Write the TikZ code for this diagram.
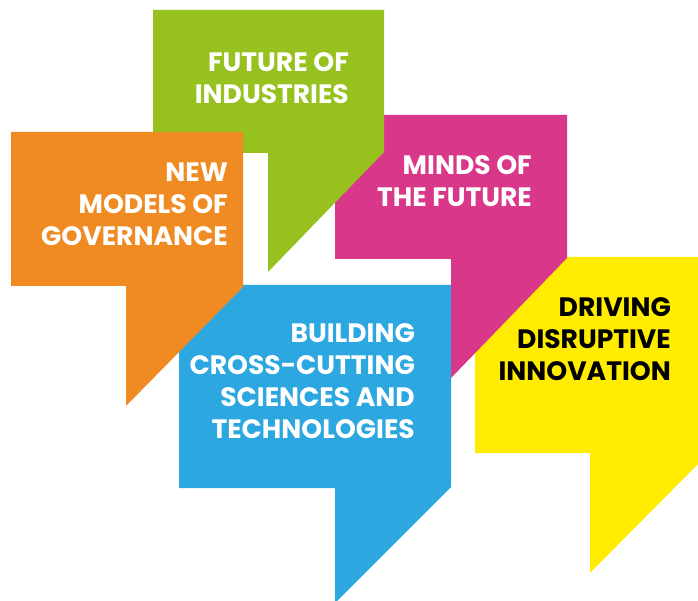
\documentclass[tikz,border=0pt]{standalone}
\usepackage{fontspec}
\setmainfont{Poppins}
\definecolor{cgreen}{RGB}{150,193,31}
\definecolor{corange}{RGB}{239,139,34}
\definecolor{cpink}{RGB}{217,55,138}
\definecolor{cblue}{RGB}{44,167,224}
\definecolor{cyellow}{RGB}{255,236,0}
\tikzset{
  lbl/.style={anchor=north east, inner sep=0pt, align=right, text=white,
    font=\bfseries\fontsize{26.6}{32}\selectfont},
  bubble/.style={draw=none}
}
\begin{document}
\begin{tikzpicture}[x=1pt,y=-1pt]
\useasboundingbox (0,0) rectangle (698,601);
% yellow
\fill[cyellow] (475,257) -- (698,257) -- (698,464) -- (590,573) -- (590,453) -- (475,453) -- cycle;
% pink
\fill[cpink] (335,115) -- (567,115) -- (567,258) -- (451,378) -- (451,259) -- (335,259) -- cycle;
% green
\fill[cgreen] (153,10) -- (384,10) -- (384,152) -- (268,272) -- (268,153) -- (153,153) -- cycle;
% blue
\fill[cblue] (179,285) -- (451,285) -- (451,487) -- (335,603) -- (335,488) -- (179,488) -- cycle;
% orange
\fill[corange] (11,132) -- (243,132) -- (243,287) -- (126,406) -- (126,286) -- (11,286) -- cycle;
% labels
\node[lbl] (tgreen) at (349,52) {FUTURE OF\\INDUSTRIES};
\node[lbl] (torange) at (228,163) {NEW\\MODELS OF\\GOVERNANCE};
\node[lbl] (tpink) at (532,155) {MINDS OF\\THE FUTURE};
\node[lbl] (tblue) at (415,323) {BUILDING\\CROSS-CUTTING\\SCIENCES AND\\TECHNOLOGIES};
\node[lbl, text=black] (tyellow) at (671,297) {DRIVING\\DISRUPTIVE\\INNOVATION};
\end{tikzpicture}
\end{document}
